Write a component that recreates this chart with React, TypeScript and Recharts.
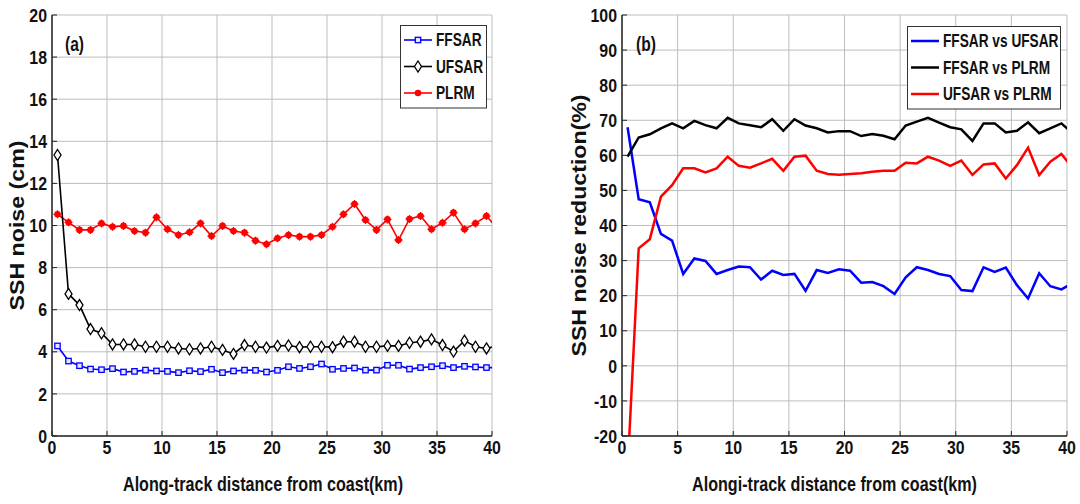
import React from "react"
import { CartesianGrid, Line, LineChart, XAxis, YAxis } from "recharts"

// along-track distance of each sample (km); the last one sits just past the frame
const distance = [
  0.5, 1.5, 2.5, 3.5, 4.5, 5.5, 6.5, 7.5, 8.5, 9.5,
  10.5, 11.5, 12.5, 13.5, 14.5, 15.5, 16.5, 17.5, 18.5, 19.5,
  20.5, 21.5, 22.5, 23.5, 24.5, 25.5, 26.5, 27.5, 28.5, 29.5,
  30.5, 31.5, 32.5, 33.5, 34.5, 35.5, 36.5, 37.5, 38.5, 39.5, 40.5,
]

// (a) SSH noise, cm
const ffsarNoise = [
  4.28, 3.56, 3.34, 3.18, 3.15, 3.2, 3.04, 3.07, 3.13, 3.09,
  3.07, 3.01, 3.1, 3.06, 3.17, 3.01, 3.09, 3.13, 3.12, 3.04,
  3.12, 3.29, 3.21, 3.29, 3.42, 3.17, 3.21, 3.23, 3.13, 3.13,
  3.36, 3.36, 3.18, 3.25, 3.29, 3.34, 3.25, 3.31, 3.28, 3.25, 3.25,
]
const ufsarNoise = [
  13.35, 6.75, 6.22, 5.08, 4.88, 4.35, 4.35, 4.35, 4.24, 4.24,
  4.24, 4.16, 4.12, 4.16, 4.24, 4.09, 3.9, 4.32, 4.24, 4.2,
  4.28, 4.3, 4.22, 4.24, 4.24, 4.22, 4.48, 4.48, 4.24, 4.24,
  4.28, 4.28, 4.43, 4.48, 4.59, 4.32, 4.01, 4.53, 4.24, 4.16, 4.3,
]
const plrmNoise = [
  10.53, 10.15, 9.79, 9.79, 10.1, 9.94, 9.98, 9.74, 9.66, 10.39,
  9.82, 9.55, 9.68, 10.1, 9.5, 9.98, 9.74, 9.66, 9.28, 9.11,
  9.39, 9.55, 9.47, 9.47, 9.55, 9.94, 10.53, 11.02, 10.26, 9.79,
  10.29, 9.31, 10.31, 10.45, 9.82, 10.13, 10.61, 9.82, 10.1, 10.45, 9.86,
]

// (b) SSH noise reduction, %
const ffsarVsUfsar = [
  68.0, 47.5, 46.6, 37.6, 35.7, 26.2, 30.6, 29.9, 26.2, 27.3,
  28.3, 28.1, 24.6, 27.1, 25.9, 26.2, 21.4, 27.3, 26.5, 27.5,
  27.1, 23.7, 23.9, 22.7, 20.5, 25.2, 28.1, 27.3, 26.2, 25.6,
  21.6, 21.3, 28.1, 26.8, 28.0, 23.0, 19.2, 26.4, 22.7, 21.8, 23.6,
]
const ffsarVsPlrm = [
  59.6, 65.1, 66.0, 67.7, 69.1, 67.7, 69.8, 68.6, 67.7, 70.7,
  69.1, 68.6, 68.0, 70.3, 67.0, 70.3, 68.5, 67.7, 66.5, 66.9,
  66.9, 65.5, 66.1, 65.6, 64.6, 68.5, 69.6, 70.7, 69.3, 68.0,
  67.4, 64.1, 69.1, 69.1, 66.5, 67.0, 69.4, 66.3, 67.7, 69.1, 66.3,
]
const ufsarVsPlrm = [
  -30, 33.5, 36.1, 48.2, 51.5, 56.3, 56.3, 55.1, 56.3, 59.6,
  57.0, 56.5, 57.7, 59.0, 55.6, 59.6, 59.9, 55.6, 54.7, 54.5,
  54.7, 54.9, 55.3, 55.6, 55.6, 57.9, 57.7, 59.6, 58.5, 57.0,
  58.5, 54.4, 57.4, 57.7, 53.4, 57.2, 62.2, 54.4, 58.2, 60.4, 56.4,
]

const xTicks = [0, 5, 10, 15, 20, 25, 30, 35, 40]
const noiseTicks = [0, 2, 4, 6, 8, 10, 12, 14, 16, 18, 20]
const reductionTicks = [-20, -10, 0, 10, 20, 30, 40, 50, 60, 70, 80, 90, 100]

const noiseRows = distance.map((x, i) => ({
  x,
  ffsar: ffsarNoise[i],
  ufsar: ufsarNoise[i],
  plrm: plrmNoise[i],
}))
const reductionRows = distance.map((x, i) => ({
  x,
  fu: ffsarVsUfsar[i],
  fp: ffsarVsPlrm[i],
  up: ufsarVsPlrm[i],
}))

const FONT = "'Liberation Sans', Arial, Helvetica, sans-serif"
const GRID = "#bdbdbd"
const FRAME = "#262626"
const INK = "#111"

// narrow bold tick text, like the matlab export
function NarrowTick(props: any) {
  const { x, y, payload, axis } = props
  const isY = axis === "y"
  return (
    <text
      transform={`translate(${x},${y}) scale(0.86,1)`}
      textAnchor={isY ? "end" : "middle"}
      dy={isY ? "0.36em" : "0.72em"}
      style={{ fontFamily: FONT, fontWeight: 700, fontSize: 18.5, fill: INK }}
    >
      {payload.value}
    </text>
  )
}

function SquareDot(props: any) {
  const { cx, cy, index } = props
  if (cx == null || cy == null) return null
  return <rect key={index} x={cx - 2.7} y={cy - 2.7} width={5.4} height={5.4} fill="#e4e7ff" stroke="#0000ff" strokeWidth={1.3} />
}

function DiamondDot(props: any) {
  const { cx, cy, index } = props
  if (cx == null || cy == null) return null
  return (
    <polygon
      key={index}
      points={`${cx},${cy - 5.5} ${cx + 3.5},${cy} ${cx},${cy + 5.5} ${cx - 3.5},${cy}`}
      fill="#fff"
      stroke="#000"
      strokeWidth={1.3}
    />
  )
}

function StarDot(props: any) {
  const { cx, cy, index } = props
  if (cx == null || cy == null) return null
  return (
    <g key={index}>
      <circle cx={cx} cy={cy} r={3.3} fill="#ff0000" />
      <path d={`M${cx - 4},${cy} H${cx + 4} M${cx},${cy - 4} V${cy + 4}`} stroke="#ff0000" strokeWidth={1.3} />
    </g>
  )
}

function AxisTitle({ viewBox, text, length, vertical, dx = 0, dy = 0 }: any) {
  const { x, y, width, height } = viewBox
  const style = { fontFamily: FONT, fontWeight: 700, fontSize: 21, fill: INK }
  if (vertical) {
    const cx = x + dx
    const cy = y + height / 2 + dy
    return (
      <text x={cx} y={cy} transform={`rotate(-90 ${cx} ${cy})`} textAnchor="middle" dominantBaseline="central"
        textLength={length} lengthAdjust="spacingAndGlyphs" style={style}>
        {text}
      </text>
    )
  }
  return (
    <text x={x + width / 2 + dx} y={y + dy} textAnchor="middle" dominantBaseline="central"
      textLength={length} lengthAdjust="spacingAndGlyphs" style={style}>
      {text}
    </text>
  )
}

type LegendItem = { name: string; color: string; marker?: string }

function LegendBox({ items, left, top, width }: { items: LegendItem[]; left: number; top: number; width: number }) {
  const rowH = 26.5
  const height = items.length * rowH + 4
  return (
    <svg style={{ position: "absolute", left, top }} width={width} height={height}>
      <rect x={0.5} y={0.5} width={width - 1} height={height - 1} fill="#fff" stroke="#333" />
      {items.map((item, i) => {
        const cy = 15 + i * rowH
        return (
          <g key={item.name}>
            <line x1={4} y1={cy} x2={32} y2={cy} stroke={item.color} strokeWidth={item.marker ? 1.6 : 2.5} />
            {item.marker === "square" && <rect x={15.3} y={cy - 2.7} width={5.4} height={5.4} fill="#e4e7ff" stroke="#0000ff" strokeWidth={1.3} />}
            {item.marker === "diamond" && <polygon points={`18,${cy - 5.5} 21.5,${cy} 18,${cy + 5.5} 14.5,${cy}`} fill="#fff" stroke="#000" strokeWidth={1.3} />}
            {item.marker === "star" && <circle cx={18} cy={cy} r={3.3} fill="#ff0000" />}
            <text transform={`translate(36,${cy}) scale(0.72,1)`} dominantBaseline="central"
              style={{ fontFamily: FONT, fontWeight: 700, fontSize: 19, fill: INK }}>
              {item.name}
            </text>
          </g>
        )
      })}
    </svg>
  )
}

function PanelTag({ x, text }: { x: number; text: string }) {
  return (
    <svg style={{ position: "absolute", left: x, top: 30 }} width={30} height={28}>
      <text transform="translate(0,14) scale(0.78,1)" dominantBaseline="central"
        style={{ fontFamily: FONT, fontWeight: 700, fontSize: 20, fill: INK }}>
        {text}
      </text>
    </svg>
  )
}

const axisLine = { stroke: FRAME, strokeWidth: 1.5 }
const innerTick = { stroke: FRAME, strokeWidth: 1 }

export default function App() {
  return (
    <div style={{ position: "absolute", left: 0, top: 0, width: 1080, height: 504, background: "#fff" }}>
      <div style={{ position: "absolute", left: 0, top: 0 }}>
        <LineChart width={540} height={504} data={noiseRows} margin={{ top: 15, right: 48, bottom: 18, left: 0 }}>
          <CartesianGrid stroke={GRID} strokeWidth={1} />
          <XAxis dataKey="x" type="number" domain={[0, 40]} ticks={xTicks} height={50} allowDataOverflow
            tick={<NarrowTick axis="x" />} tickLine={innerTick} tickSize={-5} tickMargin={10} axisLine={axisLine}
            label={<AxisTitle text="Along-track distance from coast(km)" length={280} dx={-9} dy={47} />} />
          <XAxis xAxisId="top" orientation="top" dataKey="x" type="number" domain={[0, 40]} ticks={xTicks} height={0}
            tick={false} tickLine={innerTick} tickSize={-5} axisLine={axisLine} />
          <YAxis type="number" domain={[0, 20]} ticks={noiseTicks} width={52} interval={0}
            tick={<NarrowTick axis="y" />} tickLine={innerTick} tickSize={-5} tickMargin={10} axisLine={axisLine}
            label={<AxisTitle text="SSH noise (cm)" length={170} vertical dx={16} />} />
          <YAxis yAxisId="right" orientation="right" type="number" domain={[0, 20]} ticks={noiseTicks} width={0} interval={0}
            tick={false} tickLine={innerTick} tickSize={-5} axisLine={axisLine} />
          <Line dataKey="plrm" stroke="#ff0000" strokeWidth={1.6} dot={<StarDot />} isAnimationActive={false} />
          <Line dataKey="ufsar" stroke="#000000" strokeWidth={1.6} dot={<DiamondDot />} isAnimationActive={false} />
          <Line dataKey="ffsar" stroke="#0000ff" strokeWidth={1.6} dot={<SquareDot />} isAnimationActive={false} />
        </LineChart>
        <PanelTag x={65} text="(a)" />
        <LegendBox left={400} top={25} width={87} items={[
          { name: "FFSAR", color: "#0000ff", marker: "square" },
          { name: "UFSAR", color: "#000000", marker: "diamond" },
          { name: "PLRM", color: "#ff0000", marker: "star" },
        ]} />
      </div>

      <div style={{ position: "absolute", left: 540, top: 0 }}>
        <LineChart width={540} height={504} data={reductionRows} margin={{ top: 15, right: 13, bottom: 18, left: 0 }}>
          <CartesianGrid stroke={GRID} strokeWidth={1} />
          <XAxis dataKey="x" type="number" domain={[0, 40]} ticks={xTicks} height={50} allowDataOverflow
            tick={<NarrowTick axis="x" />} tickLine={innerTick} tickSize={-5} tickMargin={10} axisLine={axisLine}
            label={<AxisTitle text="Alongi-track distance from coast(km)" length={285} dx={-10} dy={47} />} />
          <XAxis xAxisId="top" orientation="top" dataKey="x" type="number" domain={[0, 40]} ticks={xTicks} height={0}
            tick={false} tickLine={innerTick} tickSize={-5} axisLine={axisLine} />
          <YAxis type="number" domain={[-20, 100]} ticks={reductionTicks} width={82} interval={0} allowDataOverflow
            tick={<NarrowTick axis="y" />} tickLine={innerTick} tickSize={-5} tickMargin={10} axisLine={axisLine}
            label={<AxisTitle text="SSH noise reduction(%)" length={262} vertical dx={38} />} />
          <YAxis yAxisId="right" orientation="right" type="number" domain={[-20, 100]} ticks={reductionTicks} width={0} interval={0}
            tick={false} tickLine={innerTick} tickSize={-5} axisLine={axisLine} />
          <Line dataKey="fu" stroke="#0000ff" strokeWidth={2.5} dot={false} isAnimationActive={false} />
          <Line dataKey="fp" stroke="#000000" strokeWidth={2.5} dot={false} isAnimationActive={false} />
          <Line dataKey="up" stroke="#ff0000" strokeWidth={2.5} dot={false} isAnimationActive={false} />
        </LineChart>
        <PanelTag x={96} text="(b)" />
        <LegendBox left={367} top={26} width={154} items={[
          { name: "FFSAR vs UFSAR", color: "#0000ff" },
          { name: "FFSAR vs PLRM", color: "#000000" },
          { name: "UFSAR vs PLRM", color: "#ff0000" },
        ]} />
      </div>
    </div>
  )
}
